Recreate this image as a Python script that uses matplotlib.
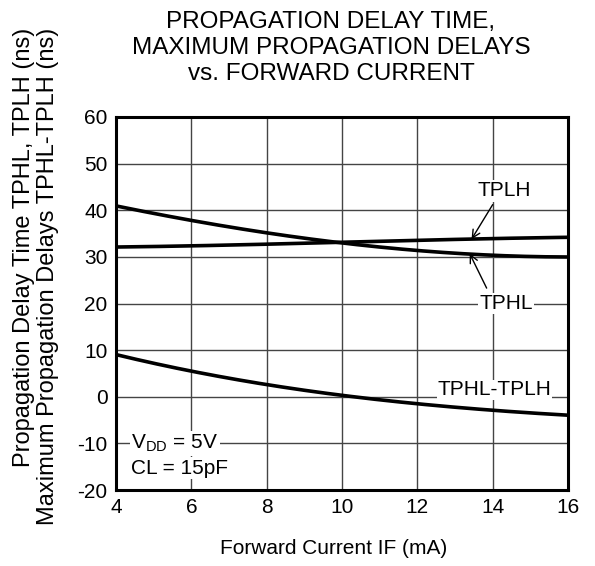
import matplotlib
matplotlib.use("Agg")
import matplotlib.pyplot as plt
import numpy as np

plt.rcParams['font.family'] = ['Liberation Sans', 'DejaVu Sans']
plt.rcParams['axes.unicode_minus'] = False

# Data
forward_current = [4, 6, 8, 10, 12, 14, 16]
tplh = [32.1, 32.4, 32.7, 33.1, 33.6, 33.9, 34.2]
tphl = [40.9, 37.9, 35.1, 33.1, 31.1, 30.6, 29.9]
tphl_minus_tplh = [9.0, 5.6, 2.6, 0.2, -1.5, -2.8, -4.0]

x_ticks = [4, 6, 8, 10, 12, 14, 16]
y_ticks = [-20, -10, 0, 10, 20, 30, 40, 50, 60]

title = "PROPAGATION DELAY TIME,\nMAXIMUM PROPAGATION DELAYS\nvs. FORWARD CURRENT"
x_label = "Forward Current IF (mA)"
y_label = "Propagation Delay Time TPHL, TPLH (ns)\nMaximum Propagation Delays TPHL-TPLH (ns)"

fig = plt.figure(figsize=(5.95, 5.66), dpi=100)
ax = fig.add_axes([116/595, 1-490/566, (568-116)/595, (490-117)/566])

ax.set_xlim(4, 16)
ax.set_ylim(-20, 60)
ax.set_xticks(x_ticks)
ax.set_yticks(y_ticks)
ax.grid(True, color='#444444', linewidth=1.0)
ax.set_axisbelow(True)
for s in ax.spines.values():
    s.set_linewidth(2.2)
ax.tick_params(length=0, labelsize=15, pad=6)

def smooth(xs, ys):
    xs = np.asarray(xs, float); ys = np.asarray(ys, float)
    xx = np.linspace(xs[0], xs[-1], 200)
    c = np.polyfit(xs, ys, 3)
    return xx, np.polyval(c, xx)

for ys in (tplh, tphl, tphl_minus_tplh):
    xx, yy = smooth(forward_current, ys)
    ax.plot(xx, yy, color='black', linewidth=2.6, solid_capstyle='butt', zorder=3)

bbox = dict(facecolor='white', edgecolor='none', pad=1)
ax.text(14.3, 44.2, "TPLH", fontsize=15, ha='center', va='center', bbox=bbox, zorder=4)
ax.annotate("", xy=(13.44, 33.8), xytext=(14.0, 41.2),
            arrowprops=dict(arrowstyle='->', color='black', lw=1.0, mutation_scale=14,
                            shrinkA=0, shrinkB=0), zorder=4)
ax.text(14.35, 20.0, "TPHL", fontsize=15, ha='center', va='center', bbox=bbox, zorder=4)
ax.annotate("", xy=(13.39, 30.7), xytext=(13.84, 23.3),
            arrowprops=dict(arrowstyle='->', color='black', lw=1.0, mutation_scale=14,
                            shrinkA=0, shrinkB=0), zorder=4)
ax.text(14.05, 0.3, "TPHL-TPLH", fontsize=15, ha='center', va='baseline',
        bbox=dict(facecolor='white', edgecolor='none', pad=0.5), zorder=4)

ax.text(4.4, -10, r"V$_{\mathregular{DD}}$ = 5V", fontsize=15, ha='left', va='center',
        bbox=dict(facecolor='white', edgecolor='none', pad=1), zorder=4)
ax.text(4.4, -15.3, "CL = 15pF", fontsize=15, ha='left', va='center',
        bbox=dict(facecolor='white', edgecolor='none', pad=1), zorder=4)

fig.text(331/595, 1-48/566, title, fontsize=17.5, ha='center', va='center', linespacing=1.22)
fig.text(334/595, 1-548/566, x_label, fontsize=15, ha='center', va='center')
fig.text(36/595, 1-28/566, y_label, fontsize=17, ha='center', va='top',
         rotation=90, multialignment='right', linespacing=1.1)

fig.savefig("out.png", dpi=100)
